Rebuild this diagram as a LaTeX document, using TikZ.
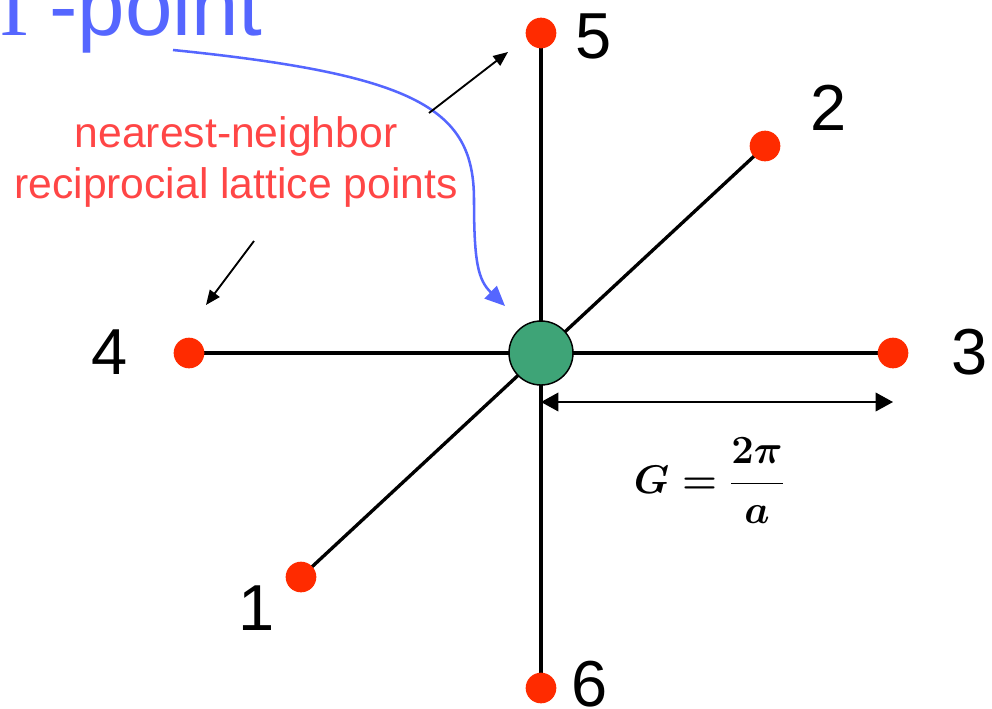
\documentclass[tikz,border=0pt]{standalone}
\usepackage{fix-cm}
\usepackage{fontspec}
\setmainfont{Liberation Sans}
\newfontfamily\serifG{Liberation Serif}
\usetikzlibrary{arrows.meta,backgrounds}
\definecolor{dotred}{RGB}{255,43,0}
\definecolor{txtred}{RGB}{255,70,70}
\definecolor{gblue}{RGB}{85,102,255}
\definecolor{ggreen}{RGB}{62,164,119}
\tikzset{
  dot/.style={circle,fill=dotred,minimum size=23pt,inner sep=0pt},
  num/.style={inner sep=0pt,font=\fontsize{48.75}{58}\selectfont},
  lat/.style={line width=2.5pt,black},
  ptr/.style={line width=1.4pt,-{Triangle[length=11pt,width=9pt]}},
  dim/.style={line width=1.1pt,{Triangle[length=13pt,width=14pt]}-{Triangle[length=13pt,width=14pt]}},
}
\begin{document}
\begin{tikzpicture}[x=0.75pt,y=-0.75pt]
\useasboundingbox (0,0) rectangle (992,708);
\clip (0,0) rectangle (992,708);
% lattice points
\node[circle,fill=ggreen,draw=black,line width=1.1pt,minimum size=48pt,inner sep=0pt] (g) at (541,353) {};
\node[dot] (p1) at (301,577) {};
\node[dot] (p2) at (765,146) {};
\node[dot] (p3) at (893,353) {};
\node[dot] (p4) at (189,353) {};
\node[dot] (p5) at (541,33) {};
\node[dot] (p6) at (541,688) {};
\begin{scope}[on background layer]
\draw[lat] (p5.center) -- (p6.center);
\draw[lat] (p4.center) -- (p3.center);
\draw[lat] (p1.center) -- (p2.center);
\end{scope}
% numbers
\node[num] (n1) at (257,608) {1};
\node[num] (n2) at (829,108) {2};
\node[num] (n3) at (970,352) {3};
\node[num] (n4) at (110,352) {4};
\node[num] (n5) at (594,36) {5};
\node[num] (n6) at (590,684) {6};
% Gamma-point label
\node[inner sep=0pt,anchor=base west,text=gblue,font=\fontsize{63}{70}\selectfont] (gam) at (0,35) {\serifG Γ};
\node[inner sep=0pt,anchor=base west,text=gblue,font=\fontsize{64}{70}\selectfont] (gpt) at (49,35) {-point};
\coordinate (gs) at (173,50);
\coordinate (gt) at (505,306);
\draw[gblue,line width=1.9pt,-{Triangle[length=15pt,width=13pt]}] (gs) .. controls (420,75) and (474,110) .. (474,200) .. controls (474,262) and (478,280) .. (gt);
% red annotation
\node[inner sep=0pt,align=center,text=txtred,font=\fontsize{32}{38.25}\selectfont] (nn) at (236,162) {nearest-neighbor\\reciprocial lattice points};
\coordinate (a1s) at (429,113);
\coordinate (a1t) at (508,52);
\coordinate (a2s) at (254,241);
\coordinate (a2t) at (206,305);
\draw[ptr] (a1s) -- (a1t);
\draw[ptr] (a2s) -- (a2t);
% dimension
\coordinate (dl) at (541,402);
\coordinate (dr) at (893,402);
\draw[dim] (dl) -- (dr);
\node[inner sep=0pt,font=\fontsize{30}{38}\selectfont\boldmath] (G) at (709,481) {$\displaystyle G=\frac{2\pi}{a}$};
\end{tikzpicture}
\end{document}
